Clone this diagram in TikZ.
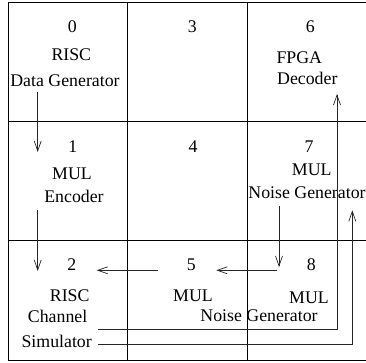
\documentclass[tikz,border=0pt]{standalone}
\usepackage{fontspec}
\setmainfont{Liberation Serif}
\usetikzlibrary{arrows.meta}
\begin{document}
\begin{tikzpicture}[x=1pt,y=-1pt,
  lbl/.style={inner sep=0pt,anchor=base,font=\fontsize{17.8}{20}\selectfont},
  gridline/.style={line width=0.8pt},
  flow/.style={line width=0.7pt,draw=black!85,-{Straight Barb[length=10pt,width=7pt]}},
  wire/.style={line width=0.7pt,draw=black!85}]
\useasboundingbox (0,0) rectangle (366,363);

% 3x3 grid of processing elements
\draw[gridline] (8,2.5) rectangle (366.5,360);
\draw[gridline] (127.7,2.5) -- (127.7,360);
\draw[gridline] (247,2.5) -- (247,360);
\draw[gridline] (8,121.7) -- (366.5,121.7);
\draw[gridline] (8,240.7) -- (366.5,240.7);

% cell 0
\node[lbl] (n0)   at (72.3,32.7) {0};
\node[lbl] (risc0) at (71.3,61) {RISC};
\node[lbl] (dgen) at (65,87) {Data Generator};
% cell 1
\node[lbl] (n1)   at (72.7,152.7) {1};
\node[lbl] (mul1) at (72,179) {MUL};
\node[lbl] (enc)  at (74,203) {Encoder};
% cell 2
\node[lbl] (n2)   at (71.7,270.7) {2};
\node[lbl] (risc2) at (69.7,301) {RISC};
\node[lbl] (chan) at (57.6,322) {Channel};
\node[lbl] (sim)  at (56.7,347) {Simulator};
% cells 3 and 4
\node[lbl] (n3)   at (192.3,32.7) {3};
\node[lbl] (n4)   at (193,152.7) {4};
% cell 5
\node[lbl] (n5)   at (191.3,270.7) {5};
\node[lbl] (mul5) at (193,301) {MUL};
% cell 6
\node[lbl] (n6)   at (310.3,32.7) {6};
\node[lbl] (fpga) at (299.3,63.7) {FPGA};
\node[lbl] (dec)  at (307.3,85) {Decoder};
% cell 7
\node[lbl] (n7)   at (309,152.7) {7};
\node[lbl] (mul7) at (311.7,176) {MUL};
\node[lbl] (ngen7) at (307,198) {Noise Generator};
% cell 8
\node[lbl] (n8)   at (311.3,270.7) {8};
\node[lbl] (mul8) at (309,303) {MUL};
\node[lbl] (ngen8) at (259,321.3) {Noise Generator};

% connector end points
\coordinate (dgenOut) at (37.7,92);
\coordinate (encIn)   at (37.7,152);
\coordinate (encOut)  at (37.7,210);
\coordinate (simIn)   at (37.7,271);
\coordinate (m5Out)   at (157.7,270.3);
\coordinate (simIn2)  at (96.7,270.3);
\coordinate (ng7Out)  at (279,206);
\coordinate (m8In)    at (279,267);
\coordinate (m8Out)   at (277,270.3);
\coordinate (m5In)    at (216.3,270.3);
\coordinate (simOutA) at (97.7,329);
\coordinate (bendA)   at (337,329);
\coordinate (decIn)   at (337,94);
\coordinate (simOutB) at (97.7,344.5);
\coordinate (bendB)   at (352.3,344.5);
\coordinate (ng7In)   at (352.3,210.3);

% data flow
\draw[flow] (dgenOut) -- (encIn);
\draw[flow] (encOut) -- (simIn);
\draw[flow] (m5Out) -- (simIn2);
\draw[flow] (ng7Out) -- (m8In);
\draw[flow] (m8Out) -- (m5In);
\draw[flow] (simOutA) -- (bendA) -- (decIn);
\draw[flow] (simOutB) -- (bendB) -- (ng7In);
\end{tikzpicture}
\end{document}
